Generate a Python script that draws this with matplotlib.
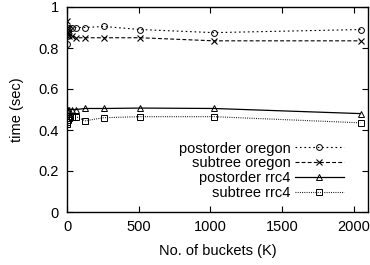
import matplotlib
matplotlib.use("Agg")
import matplotlib.pyplot as plt

buckets = [1, 2, 4, 8, 16, 32, 64, 128, 256, 512, 1024, 2048]
postorder_oregon = [0.82, 0.86, 0.88, 0.89, 0.90, 0.90, 0.90, 0.90, 0.905, 0.89, 0.875, 0.89]
subtree_oregon = [0.93, 0.90, 0.88, 0.87, 0.86, 0.86, 0.85, 0.85, 0.85, 0.85, 0.835, 0.835]
postorder_rrc4 = [0.46, 0.48, 0.49, 0.50, 0.50, 0.50, 0.50, 0.505, 0.505, 0.507, 0.505, 0.48]
subtree_rrc4 = [0.43, 0.44, 0.45, 0.46, 0.46, 0.465, 0.465, 0.445, 0.46, 0.465, 0.465, 0.435]
xticks = [0, 500, 1000, 1500, 2000]
yticks = [0, 0.2, 0.4, 0.6, 0.8, 1]
ytick_labels = ["0", "0.2", "0.4", "0.6", "0.8", "1"]

plt.rcParams['font.family'] = ['Liberation Sans', 'DejaVu Sans']
plt.rcParams['font.size'] = 10.5

fig = plt.figure(figsize=(3.7, 2.65), dpi=100)
ax = fig.add_axes([67/370, 1 - 212/265, (368-67)/370, (212-7)/265])

ms = 4.2
ax.plot(buckets, postorder_oregon, color='black', lw=0.8, ls=(0, (1.5, 2.5)), marker='o',
        mfc='none', mec='black', ms=ms, mew=0.7, label='postorder oregon')
ax.plot(buckets, subtree_oregon, color='black', lw=0.8, ls=(0, (3.5, 2)), marker='x',
        mec='black', ms=ms, mew=0.8, label='subtree oregon')
ax.plot(buckets, postorder_rrc4, color='black', lw=0.9, ls='-', marker='^',
        mfc='none', mec='black', ms=ms, mew=0.7, label='postorder rrc4')
ax.plot(buckets, subtree_rrc4, color='black', lw=0.8, ls=(0, (0.8, 1.2)), marker='s',
        mfc='none', mec='black', ms=ms, mew=0.7, label='subtree rrc4')

ax.set_xlim(0, 2100)
ax.set_ylim(0, 1)
ax.set_xticks(xticks)
ax.set_yticks(yticks)
ax.set_yticklabels(ytick_labels)
ax.tick_params(direction='in', top=True, right=True, length=4, width=0.8, labelsize=10.5, pad=6)
for s in ax.spines.values():
    s.set_linewidth(1.0)
ax.set_xlabel('No. of buckets (K)', fontsize=10.5, labelpad=7)
ax.set_ylabel('time (sec)', fontsize=10.5, labelpad=10)

leg = ax.legend(loc='lower right', bbox_to_anchor=(0.955, 0.01), markerfirst=False, frameon=False,
                fontsize=10.5, handlelength=3.4, handletextpad=0.3, labelspacing=0.05, borderpad=0.2)

fig.savefig('out.png', dpi=100)
